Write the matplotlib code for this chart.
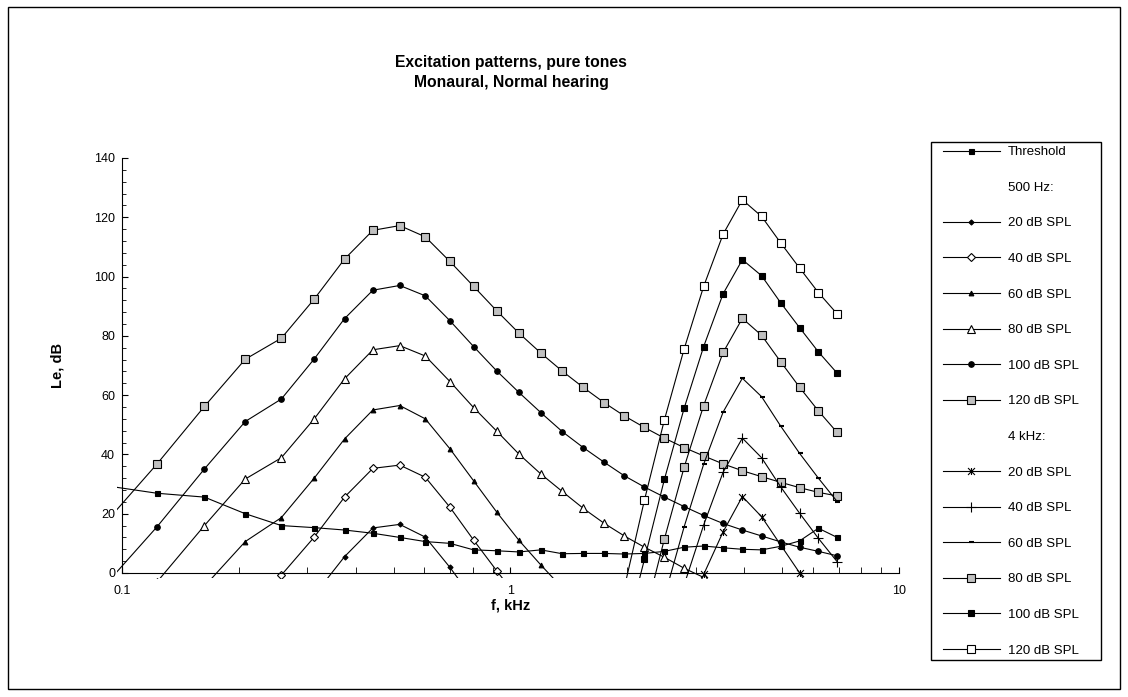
import matplotlib
matplotlib.use("Agg")
import matplotlib.pyplot as plt
import numpy as np
from matplotlib.lines import Line2D
from matplotlib.path import Path
from matplotlib.patches import Rectangle
from matplotlib.ticker import MultipleLocator, LogLocator, NullFormatter

plt.rcParams['font.family'] = ['Liberation Sans', 'DejaVu Sans']

#
# Excitation patterns for pure tones.
# Points sit on a 1-Cam grid (ERB number 3..32), frequencies in kHz.
#

nan = np.nan

freq = [0.0871, 0.1231, 0.1630, 0.2076, 0.2572, 0.3124, 0.3739, 0.4424, 0.5187, 0.6036,
        0.6983, 0.8036, 0.9209, 1.0516, 1.1971, 1.3591, 1.5395, 1.7404, 1.9631, 2.212,
        2.490, 2.799, 3.142, 3.526, 3.952, 4.428, 4.957, 5.545, 6.201, 6.932]

threshold = [29.8, 26.9, 25.6, 20.0, 16.0, 15.3, 14.5, 13.4, 12.0, 10.6,
             10.0, 7.8, 7.5, 7.1, 7.8, 6.5, 6.6, 6.6, 6.4, 6.6,
             7.3, 8.7, 9.1, 8.5, 8.0, 7.8, 9.0, 10.8, 15.1, 12.0]

# 500 Hz tone
t500_20 = [nan] * 5 + [-7.5, 5.5, 15.2, 16.4, 12.1, 1.9, -9.0] + [nan] * 18
t500_40 = [nan] * 4 + [-0.7, 12.1, 25.6, 35.3, 36.4, 32.3, 22.2, 11.1, 0.8, -9.0] + [nan] * 16
t500_60 = [nan] * 2 + [-4.5, 10.6, 18.7, 32.0, 45.2, 55.0, 56.5, 52.0, 41.9, 31.1,
                       20.6, 11.0, 2.7, -5.0] + [nan] * 14
t500_80 = [nan, -3.0, 16.0, 31.7, 38.9, 52.0, 65.5, 75.3, 76.7, 73.2,
           64.6, 55.8, 47.9, 40.1, 33.4, 27.5, 21.8, 16.8, 12.5, 8.7,
           5.3, 1.6, -1.5, -5.0] + [nan] * 6
t500_100 = [-6.5, 15.6, 35.1, 51.1, 58.7, 72.2, 85.8, 95.4, 97.0, 93.5,
            85.1, 76.4, 68.2, 60.9, 54.1, 47.7, 42.3, 37.4, 32.8, 29.0,
            25.6, 22.4, 19.4, 16.7, 14.5, 12.5, 10.5, 8.7, 7.3, 5.8]
t500_120 = [14.4, 36.8, 56.2, 72.1, 79.2, 92.4, 105.9, 115.6, 117.2, 113.4,
            105.1, 96.7, 88.5, 80.9, 74.2, 68.1, 62.6, 57.5, 53.0, 49.1,
            45.5, 42.3, 39.5, 36.8, 34.5, 32.5, 30.6, 28.8, 27.2, 26.0]

# 4 kHz tone
t4k_20 = [nan] * 22 + [-0.5, 13.9, 25.8, 19.0, 9.5, 0.1, -9.5, nan]
t4k_40 = [nan] * 21 + [-4.0, 16.2, 34.0, 45.5, 38.9, 29.1, 20.2, 11.7, 3.8]
t4k_60 = [nan] * 20 + [-8.0, 15.6, 36.7, 54.3, 65.7, 59.5, 49.6, 40.4, 32.0, 24.1]
t4k_80 = [nan] * 19 + [-15.0, 11.5, 35.7, 56.5, 74.4, 85.9, 80.2, 71.3, 62.7, 54.7, 47.4]
t4k_100 = [nan] * 18 + [-22.0, 4.6, 31.6, 55.6, 76.4, 94.2, 105.7, 100.3, 91.2, 82.8, 74.6, 67.4]
t4k_120 = [nan] * 18 + [-5.0, 24.6, 51.7, 75.6, 96.7, 114.3, 125.9, 120.3, 111.4, 102.9, 94.6, 87.4]

# excel "star" marker: X with a vertical bar
star = Path([(-1, -1), (1, 1), (-1, 1), (1, -1), (0, -1), (0, 1)],
            [Path.MOVETO, Path.LINETO, Path.MOVETO, Path.LINETO, Path.MOVETO, Path.LINETO])

GREY = '#c0c0c0'
series = [
    ("Threshold", threshold, dict(marker='s', ms=3.6, mfc='black')),
    ("500 Hz:", None, None),
    ("20 dB SPL", t500_20, dict(marker='D', ms=2.6, mfc='black')),
    ("40 dB SPL", t500_40, dict(marker='D', ms=4.5, mfc='white')),
    ("60 dB SPL", t500_60, dict(marker='^', ms=3.4, mfc='black')),
    ("80 dB SPL", t500_80, dict(marker='^', ms=6.2, mfc='white')),
    ("100 dB SPL", t500_100, dict(marker='o', ms=4.0, mfc='black')),
    ("120 dB SPL", t500_120, dict(marker='s', ms=5.2, mfc=GREY)),
    ("4 kHz:", None, None),
    ("20 dB SPL", t4k_20, dict(marker=star, ms=5.0, mfc='black')),
    ("40 dB SPL", t4k_40, dict(marker='+', ms=6.5, mfc='black')),
    ("60 dB SPL", t4k_60, dict(marker='_', ms=3.6, mfc='black', mew=1.5)),
    ("80 dB SPL", t4k_80, dict(marker='s', ms=5.2, mfc=GREY)),
    ("100 dB SPL", t4k_100, dict(marker='s', ms=3.8, mfc='black')),
    ("120 dB SPL", t4k_120, dict(marker='s', ms=5.2, mfc='white')),
]

W, H = 1128, 697
fig = plt.figure(figsize=(W / 100, H / 100), dpi=100)

# plot area in pixels: x=0.1 at 122, decade = 389 px; y=0 at 573, 2.962 px/dB
x_lo = 10 ** (-1 - 5 / 389)
y_lo = -1.8
left, right, top = 117, 899, 158
bottom = 573 + 1.8 * 2.962
ax = fig.add_axes([left / W, 1 - bottom / H, (right - left) / W, (bottom - top) / H])
ax.patch.set_visible(False)

handles, labels = [], []
for name, vals, style in series:
    if vals is None:
        handles.append(Line2D([], [], color='none'))
    else:
        kw = dict(color='black', lw=0.8, mec='black', mew=0.8)
        kw.update(style)
        h, = ax.plot(freq, vals, **kw)
        handles.append(h)
    labels.append(name)

ax.set_xscale('log')
ax.set_xlim(x_lo, 10)
ax.set_ylim(y_lo, 140)

for s in ['top', 'right']:
    ax.spines[s].set_visible(False)
ax.spines['left'].set_position(('data', 0.1))
ax.spines['bottom'].set_position(('data', 0))
ax.spines['left'].set_bounds(0, 140)
ax.spines['bottom'].set_bounds(0.1, 10)

ax.set_yticks(range(0, 141, 20))
ax.yaxis.set_minor_locator(MultipleLocator(4))
ax.set_xticks([0.1, 1, 10])
ax.set_xticklabels(['0.1', '1', '10'])
ax.xaxis.set_minor_locator(LogLocator(base=10, subs=np.arange(2, 10)))
ax.xaxis.set_minor_formatter(NullFormatter())
ax.tick_params(which='both', direction='in', labelsize=9, colors='black')
ax.tick_params(axis='y', which='major', length=4, pad=5)
ax.tick_params(axis='y', which='minor', length=3)
ax.tick_params(axis='x', which='major', length=4, pad=9)
ax.tick_params(axis='x', which='minor', length=4)

fig.text(511 / W, 1 - 62 / H, "Excitation patterns, pure tones", ha='center', va='center',
         fontsize=11.3, fontweight='bold')
fig.text(511 / W, 1 - 82 / H, "Monaural, Normal hearing", ha='center', va='center',
         fontsize=11.3, fontweight='bold')
fig.text(58 / W, 1 - 366 / H, "Le, dB", ha='center', va='center', rotation=90,
         fontsize=10.5, fontweight='bold')
fig.text(511 / W, 1 - 605 / H, "f, kHz", ha='center', va='center',
         fontsize=10.5, fontweight='bold')

# legend entries without frame, box drawn separately
fig.legend(handles, labels, loc='upper left', bbox_to_anchor=(943 / W, 1 - 146 / H),
           fontsize=9.5, handlelength=4.3, handletextpad=0.6, borderpad=0,
           labelspacing=1.77, frameon=False, borderaxespad=0)
fig.patches.append(Rectangle((931 / W, 1 - 660 / H), (1101 - 931) / W, (660 - 142) / H,
                             transform=fig.transFigure, fill=False, ec='black', lw=1))

fig.patches.append(Rectangle((8 / W, 8 / H), (1120 - 8) / W, (690 - 8) / H,
                             transform=fig.transFigure, fill=False, ec='black', lw=1))

fig.savefig('out.png', dpi=100)
